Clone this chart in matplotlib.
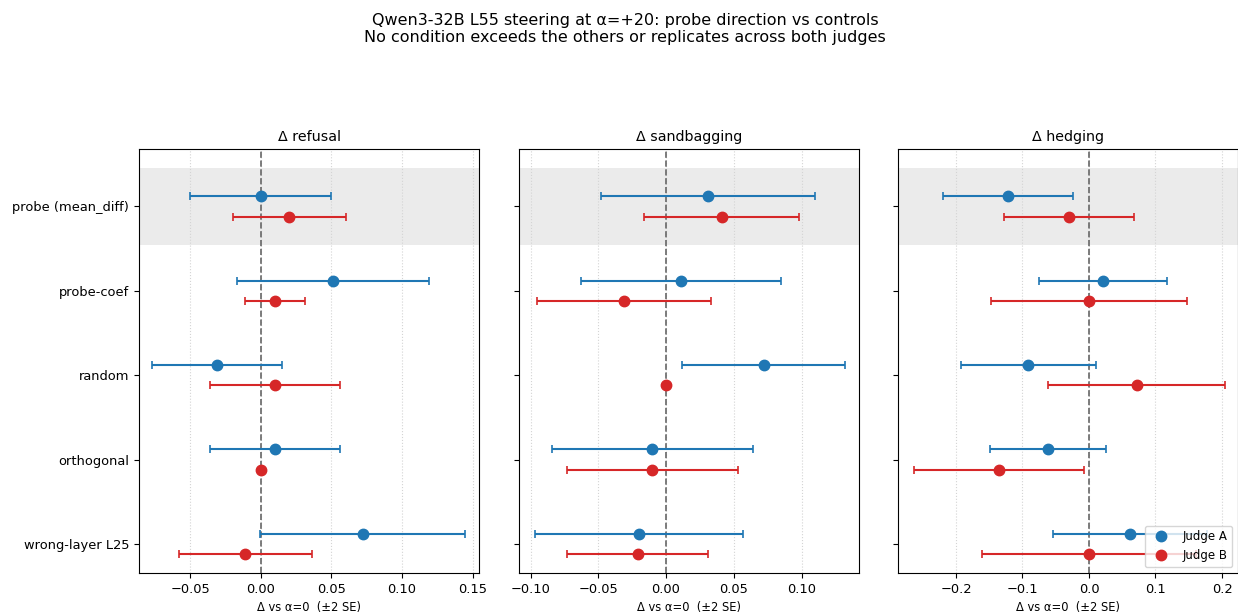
import matplotlib
matplotlib.use("Agg")
import matplotlib.pyplot as plt
from matplotlib.lines import Line2D

conditions = ["probe (mean_diff)", "probe-coef", "random", "orthogonal", "wrong-layer L25"]
metrics = ["refusal", "sandbagging", "hedging"]

# delta vs alpha=0, and 2*SE half-widths, per judge
judge_a = {
    "refusal": [0.000, 0.051, -0.031, 0.010, 0.072],
    "sandbagging": [0.031, 0.011, 0.072, -0.010, -0.020],
    "hedging": [-0.122, 0.021, -0.091, -0.061, 0.062],
}
judge_a_err = {
    "refusal": [0.050, 0.068, 0.046, 0.046, 0.073],
    "sandbagging": [0.079, 0.074, 0.060, 0.074, 0.077],
    "hedging": [0.098, 0.096, 0.101, 0.087, 0.116],
}
judge_b = {
    "refusal": [0.020, 0.010, 0.010, 0.000, -0.011],
    "sandbagging": [0.041, -0.031, 0.000, -0.010, -0.021],
    "hedging": [-0.030, 0.000, 0.072, -0.135, 0.000],
}
judge_b_err = {
    "refusal": [0.040, 0.021, 0.046, 0.000, 0.047],
    "sandbagging": [0.057, 0.064, 0.000, 0.063, 0.052],
    "hedging": [0.097, 0.147, 0.133, 0.128, 0.161],
}
xlims = {
    "refusal": (-0.0865, 0.1546),
    "sandbagging": (-0.1085, 0.1424),
    "hedging": (-0.287, 0.224),
}

BLUE = "#1f77b4"
RED = "#d62728"

plt.rcParams["xtick.labelsize"] = 9.4
plt.rcParams["ytick.labelsize"] = 9.4

fig = plt.figure(figsize=(12.38, 6.16), dpi=100)
lefts = [139 / 1238, 519 / 1238, 898 / 1238]
width = 340 / 1238
bottom = 1 - 573 / 616
height = 424 / 616

axes = []
for i, m in enumerate(metrics):
    ax = fig.add_axes([lefts[i], bottom, width, height])
    axes.append(ax)
    y = list(range(len(conditions)))
    ya = [v - 0.12 for v in y]
    yb = [v + 0.12 for v in y]

    ax.axhspan(-0.455, 0.455, color="#ebebeb", zorder=0, lw=0)
    ax.axvline(0, color="#666666", ls="--", lw=1.2, zorder=1)
    ax.grid(axis="x", ls=":", color="#d4d4d4", lw=0.8, zorder=0)
    ax.set_axisbelow(True)

    ax.errorbar(judge_a[m], ya, xerr=judge_a_err[m], fmt="o", color=BLUE,
                ms=7.5, capsize=3, elinewidth=1.5, capthick=1.2, zorder=3)
    ax.errorbar(judge_b[m], yb, xerr=judge_b_err[m], fmt="o", color=RED,
                ms=7.5, capsize=3, elinewidth=1.5, capthick=1.2, zorder=3)

    ax.set_yticks(y)
    if i == 0:
        ax.set_yticklabels(conditions)
    else:
        ax.set_yticklabels([])
    ax.set_ylim(4.344, -0.68)
    ax.set_xlim(*xlims[m])
    ax.set_title("Δ " + m, fontsize=10.3)
    ax.set_xlabel("Δ vs α=0  (±2 SE)", fontsize=8.3)

handles = [
    Line2D([], [], marker="o", ls="none", color=BLUE, ms=7.5, label="Judge A"),
    Line2D([], [], marker="o", ls="none", color=RED, ms=7.5, label="Judge B"),
]
axes[2].legend(handles=handles, loc="lower right", fontsize=8.5)

fig.suptitle("Qwen3-32B L55 steering at α=+20: probe direction vs controls\n"
             "No condition exceeds the others or replicates across both judges",
             x=625 / 1238, y=0.979, fontsize=11.5)

fig.savefig("out.png", dpi=100)
